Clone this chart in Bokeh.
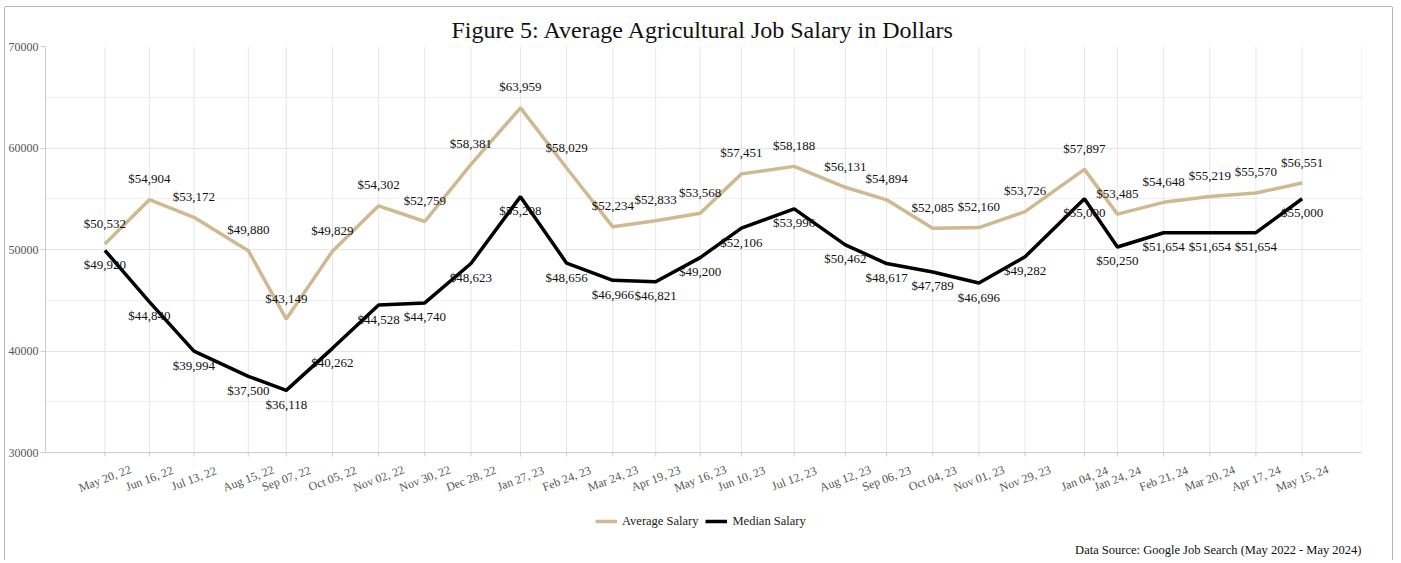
from datetime import datetime
from bokeh.plotting import figure
from bokeh.models import (ColumnDataSource, Legend, LegendItem, Label, Span,
                          Range1d, LabelSet, SingleIntervalTicker)
from bokeh.core.properties import value
from bokeh.embed import file_html
from bokeh.resources import INLINE

dates = ["2022-05-20", "2022-06-16", "2022-07-13", "2022-08-15", "2022-09-07", "2022-10-05",
         "2022-11-02", "2022-11-30", "2022-12-28", "2023-01-27", "2023-02-24", "2023-03-24",
         "2023-04-19", "2023-05-16", "2023-06-10", "2023-07-12", "2023-08-12", "2023-09-06",
         "2023-10-04", "2023-11-01", "2023-11-29", "2024-01-04", "2024-01-24", "2024-02-21",
         "2024-03-20", "2024-04-17", "2024-05-15"]
average_salary = [50532, 54904, 53172, 49880, 43149, 49829, 54302, 52759, 58381, 63959, 58029,
                  52234, 52833, 53568, 57451, 58188, 56131, 54894, 52085, 52160, 53726, 57897,
                  53485, 54648, 55219, 55570, 56551]
median_salary = [49920, 44840, 39994, 37500, 36118, 40262, 44528, 44740, 48623, 55208, 48656,
                 46966, 46821, 49200, 52106, 53996, 50462, 48617, 47789, 46696, 49282, 55000,
                 50250, 51654, 51654, 51654, 55000]

FONT = value("Liberation Serif")
GOLD = "#CFB991"
GRID = "#e6e6e6"
AXIS = "#cccccc"

Y_MIN, Y_MAX = 30000, 70000
PLOT_PX = 406                      # pixel height of the 30000-70000 band
BELOW_PX = 108                     # room under the axis for tick labels, legend, source
units_per_px = (Y_MAX - Y_MIN) / PLOT_PX
y_start = Y_MIN - BELOW_PX * units_per_px

x = [datetime.strptime(d, "%Y-%m-%d") for d in dates]
n = len(x)
src = ColumnDataSource(dict(
    x=x, avg=average_salary, med=median_salary,
    ybase=[Y_MIN] * n, ytop=[Y_MAX] * n, ytick=[Y_MIN - 4 * units_per_px] * n,
    avg_lbl=[f"${v:,}" for v in average_salary],
    med_lbl=[f"${v:,}" for v in median_salary],
    tick_lbl=[d.strftime("%b %d, %y") for d in x],
))

x_start = datetime(2022, 4, 14)
x_end = datetime(2024, 6, 20)
p = figure(frame_width=1316, frame_height=PLOT_PX + BELOW_PX, x_axis_type="datetime",
           x_axis_location=None, output_backend="svg", toolbar_location=None,
           x_range=Range1d(x_start, x_end), y_range=Range1d(y_start, Y_MAX),
           min_border_left=40, min_border_right=31, min_border_top=39, min_border_bottom=0)

p.title.text = "Figure 5: Average Agricultural Job Salary in Dollars"
p.title.align = "center"
p.title.text_font = "Liberation Serif"
p.title.text_font_size = "24px"
p.title.text_font_style = "normal"
p.title.text_color = "#111111"
p.title.standoff = 8

# vertical grid lines at each date, plus small tick marks below the axis
p.segment(x0="x", y0="ybase", x1="x", y1="ytop", source=src, line_color=GRID, line_width=1)
p.segment(x0="x", y0="ytick", x1="x", y1="ybase", source=src, line_color=AXIS, line_width=1)
# right frame edge
p.segment(x0=[x_end], y0=[Y_MIN], x1=[x_end], y1=[Y_MAX], line_color=GRID, line_width=1)
p.add_layout(Span(location=Y_MIN, dimension="width", line_color=AXIS, line_width=1))

r_avg = p.line("x", "avg", source=src, line_color=GOLD, line_width=3.5)
r_med = p.line("x", "med", source=src, line_color="black", line_width=3.5)

p.add_layout(LabelSet(x="x", y="avg", text="avg_lbl", source=src, y_offset=21,
                      text_align="center", text_baseline="middle", text_font=FONT,
                      text_font_size="13px", text_color="#111111"))
p.add_layout(LabelSet(x="x", y="med", text="med_lbl", source=src, y_offset=-14,
                      text_align="center", text_baseline="middle", text_font=FONT,
                      text_font_size="13px", text_color="#111111"))

# x tick labels, centred under each tick and slanted
p.add_layout(LabelSet(x="x", y="ybase", text="tick_lbl", source=src, y_offset=-26,
                      angle=0.36, text_align="center", text_baseline="middle",
                      text_font=FONT, text_font_size="12px", text_color="#555555"))

p.yaxis.ticker = SingleIntervalTicker(interval=10000, num_minor_ticks=2)
p.yaxis.bounds = (Y_MIN, Y_MAX)
p.yaxis.axis_line_color = AXIS
p.yaxis.major_tick_line_color = AXIS
p.yaxis.minor_tick_line_color = None
p.yaxis.major_tick_out = 5
p.yaxis.major_tick_in = 0
p.yaxis.major_label_standoff = 2
p.yaxis.major_label_text_font = "Liberation Serif"
p.yaxis.major_label_text_color = "#555555"
p.yaxis.major_label_text_font_size = "12px"

p.xgrid.grid_line_color = None
p.ygrid.grid_line_color = GRID
p.ygrid.minor_grid_line_color = "#eeeeee"
p.outline_line_color = None

legend = Legend(items=[LegendItem(label="Average Salary", renderers=[r_avg]),
                       LegendItem(label="Median Salary", renderers=[r_med])],
                orientation="horizontal", location=(544, 23),
                label_text_font="Liberation Serif", label_text_font_size="12.5px",
                label_text_color="#222222", border_line_alpha=0, background_fill_alpha=0,
                glyph_width=22, spacing=7, padding=6, margin=0)
p.add_layout(legend, "center")

p.add_layout(Label(x=x_end.timestamp() * 1000, y=y_start, y_offset=11,
                   text="Data Source: Google Job Search (May 2022 - May 2024)",
                   text_align="right", text_baseline="middle", text_font="Liberation Serif",
                   text_font_size="12.5px", text_color="#111111"))

p.styles = {
    "margin-left": "5px",
    "margin-top": "7px",
    "box-shadow": "-1px 0 0 0 #b5b5b5, 1px 0 0 0 #b5b5b5, 0 -1px 0 0 #b5b5b5",
}

open("out.html", "w").write(file_html(p, INLINE))
